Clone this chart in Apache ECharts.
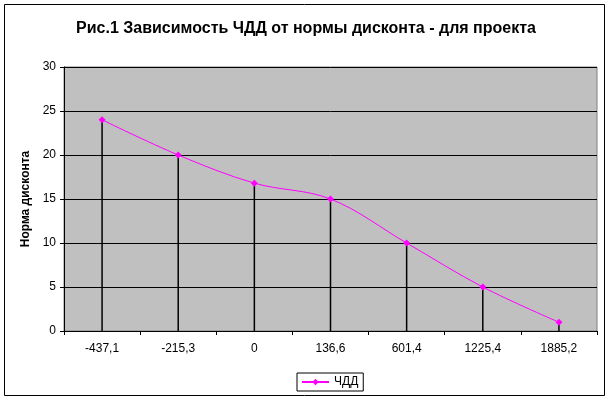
<!DOCTYPE html>
<html>
<head>
<meta charset="utf-8">
<script src="https://cdn.jsdelivr.net/npm/echarts@6/dist/echarts.min.js"></script>
<style>
  html, body { margin: 0; padding: 0; background: #fff; }
  #chart { width: 612px; height: 402px; }
</style>
</head>
<body>
<div id="chart"></div>
<script>
// ЧДД при разных нормах дисконта
const categories = ['-437,1', '-215,3', '0', '136,6', '601,4', '1225,4', '1885,2'];
const discountRate = [24, 20, 16.8, 15, 10, 5, 1];
const yTicks = { min: 0, max: 30, step: 5 };

const chart = echarts.init(document.getElementById('chart'), null, { renderer: 'canvas' });
const font = 'Liberation Sans, Arial, sans-serif';

chart.setOption({
  animation: false,
  backgroundColor: '#fff',
  title: {
    text: 'Рис.1 Зависимость ЧДД от нормы дисконта - для проекта',
    left: 'center',
    top: 16,
    textStyle: { fontFamily: font, fontSize: 16, fontWeight: 'bold', color: '#000' },
  },
  graphic: [{
    type: 'rect',
    shape: { x: 4.5, y: 4.5, width: 600, height: 391 },
    style: { fill: 'none', stroke: '#000', lineWidth: 1 },
    z: 100,
  }],
  legend: {
    data: ['ЧДД'],
    top: 373,
    left: 297,
    borderColor: '#000',
    borderWidth: 1,
    borderRadius: 0,
    padding: [3, 5, 3, 4],
    itemWidth: 27,
    itemHeight: 8,
    textStyle: { fontFamily: font, fontSize: 12, color: '#000' },
  },
  grid: {
    left: 64, right: 15, top: 67, bottom: 71,
    show: true,
    backgroundColor: '#C0C0C0',
    borderColor: '#808080',
    borderWidth: 1,
  },
  xAxis: {
    type: 'category',
    data: categories,
    boundaryGap: true,
    axisLine: { lineStyle: { color: '#000', width: 1 } },
    axisTick: { show: true, interval: 0, length: 4, lineStyle: { color: '#000' } },
    axisLabel: { fontFamily: font, fontSize: 12, color: '#000', margin: 12, interval: 0 },
    splitLine: { show: false },
  },
  yAxis: {
    type: 'value',
    min: yTicks.min,
    max: yTicks.max,
    interval: yTicks.step,
    name: 'Норма дисконта',
    nameLocation: 'middle',
    nameGap: 31,
    nameRotate: 90,
    nameTextStyle: { fontFamily: font, fontSize: 12, fontWeight: 'bold', color: '#000' },
    axisLine: { show: true, lineStyle: { color: '#000', width: 1 } },
    axisTick: { show: true, length: 4, lineStyle: { color: '#000' } },
    axisLabel: { fontFamily: font, fontSize: 12, color: '#000', margin: 8 },
    splitLine: { show: true, lineStyle: { color: '#000', width: 1 } },
  },
  series: [
    {
      // вертикальные линии от точек к оси
      name: 'drop',
      type: 'bar',
      data: discountRate,
      barWidth: 1.5,
      itemStyle: { color: '#000' },
      silent: true,
      z: 2,
    },
    {
      name: 'ЧДД',
      type: 'line',
      data: discountRate,
      smooth: 0.35,
      symbol: 'diamond',
      symbolSize: 7,
      itemStyle: { color: '#FF00FF' },
      lineStyle: { color: '#FF00FF', width: 1 },
      z: 3,
    },
  ],
});
</script>
</body>
</html>
